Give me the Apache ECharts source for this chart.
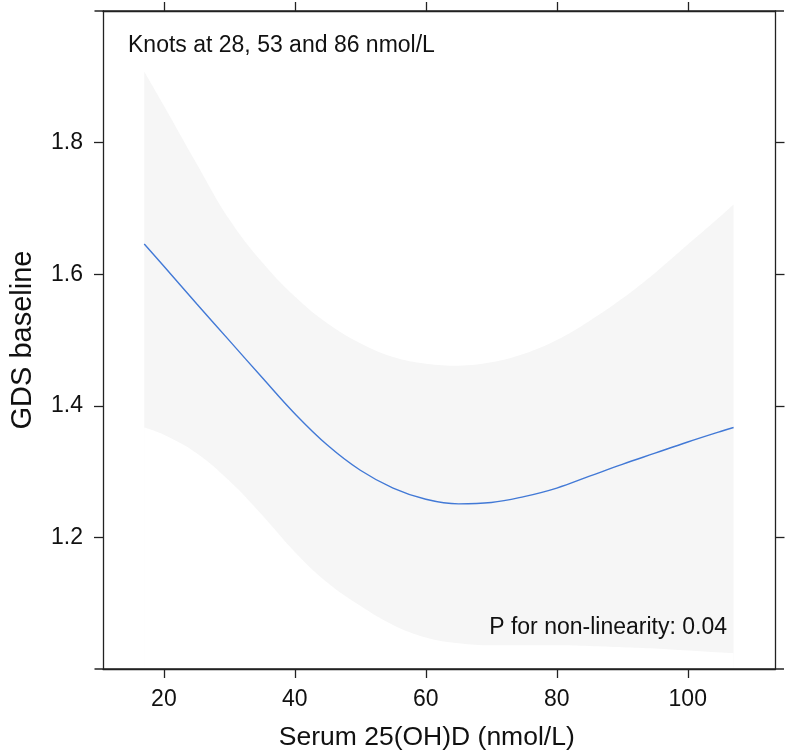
<!DOCTYPE html>
<html>
<head>
<meta charset="utf-8">
<script src="https://cdn.jsdelivr.net/npm/echarts@6/dist/echarts.min.js"></script>
<style>
html,body{margin:0;padding:0;background:#fff;}
#chart{width:786px;height:756px;}
</style>
</head>
<body>
<div id="chart"></div>
<script>
// Serum 25(OH)D values (nmol/L)
var xValues = [17, 20, 25, 30, 35, 40, 45, 50, 55, 60, 65, 70, 75, 80, 85, 90, 95, 100, 105, 107];
// Fitted GDS baseline
var fitValues = [1.646, 1.612, 1.555, 1.499, 1.443, 1.388, 1.340, 1.302, 1.275, 1.258, 1.251, 1.253, 1.262, 1.275, 1.293, 1.311, 1.328, 1.345, 1.361, 1.367];
// 95% CI bounds
var upperValues = [1.908, 1.856, 1.768, 1.683, 1.618, 1.566, 1.525, 1.495, 1.474, 1.464, 1.461, 1.466, 1.479, 1.500, 1.529, 1.563, 1.602, 1.645, 1.688, 1.706];
var lowerValues = [1.367, 1.356, 1.328, 1.286, 1.234, 1.178, 1.131, 1.096, 1.067, 1.048, 1.039, 1.036, 1.036, 1.036, 1.035, 1.033, 1.031, 1.028, 1.025, 1.024];
// Tick labels
var xTicks = [20, 40, 60, 80, 100];
var yTicks = [1.2, 1.4, 1.6, 1.8];
var xTitle = 'Serum 25(OH)D (nmol/L)';
var yTitle = 'GDS baseline';
var knotsText = 'Knots at 28, 53 and 86 nmol/L';
var pText = 'P for non-linearity: 0.04';

var FONT = '"Liberation Sans", Arial, Helvetica, sans-serif';
var lineCol = '#222';
var X_MIN = 10.7, X_MAX = 113.4, Y_MIN = 1.0, Y_MAX = 2.0;

function pairs(vals) { return xValues.map(function (x, i) { return [x, vals[i]]; }); }

var chart = echarts.init(document.getElementById('chart'), null, { renderer: 'canvas' });

function xAxisCfg(pos, labels) {
  return {
    type: 'value', position: pos, min: X_MIN, max: X_MAX,
    name: labels ? xTitle : '', nameLocation: 'middle', nameGap: 55,
    nameTextStyle: { fontFamily: FONT, fontSize: 26.5, color: '#111', padding: [0, 25, 0, 0] },
    axisLine: { show: true, onZero: false, lineStyle: { color: lineCol, width: 1.3 } },
    axisTick: { show: true, inside: false, length: 9, customValues: xTicks, lineStyle: { color: lineCol, width: 1.3 } },
    axisLabel: { show: labels, customValues: xTicks, margin: 19, fontFamily: FONT, fontSize: 23, color: '#111' },
    splitLine: { show: false }, z: 10
  };
}
function yAxisCfg(pos, labels) {
  return {
    type: 'value', position: pos, min: Y_MIN, max: Y_MAX,
    name: labels ? yTitle : '', nameLocation: 'middle', nameGap: 66, nameRotate: 90,
    nameTextStyle: { fontFamily: FONT, fontSize: 29, color: '#111' },
    axisLine: { show: true, onZero: false, lineStyle: { color: lineCol, width: 1.3 } },
    axisTick: { show: true, inside: false, length: 9, customValues: yTicks, lineStyle: { color: lineCol, width: 1.3 } },
    axisLabel: { show: labels, customValues: yTicks, margin: 20, fontFamily: FONT, fontSize: 23, color: '#111',
      formatter: function (v) { return v.toFixed(1); } },
    splitLine: { show: false }, z: 10
  };
}

chart.setOption({
  animation: false,
  backgroundColor: '#fff',
  grid: { left: 93, top: 11, width: 682.5, height: 658, containLabel: false },
  xAxis: [xAxisCfg('bottom', true), xAxisCfg('top', false)],
  yAxis: [yAxisCfg('left', true), yAxisCfg('right', false)],
  series: [
    { type: 'line', data: pairs(upperValues), symbol: 'none', smooth: 0.4,
      lineStyle: { width: 0, opacity: 0 }, areaStyle: { color: '#f6f6f6', opacity: 1, origin: 'start' }, silent: true, z: 1 },
    { type: 'line', data: pairs(lowerValues), symbol: 'none', smooth: 0.4,
      lineStyle: { width: 0, opacity: 0 }, areaStyle: { color: '#ffffff', opacity: 1, origin: 'start' }, silent: true, z: 2 },
    { type: 'line', data: pairs(fitValues), symbol: 'none', smooth: 0.4,
      lineStyle: { color: '#4279d6', width: 1.4 }, z: 3 }
  ]
});

// Frame: horizontal border lines run slightly past the box corners, as in the reference
var bl = chart.convertToPixel({ gridIndex: 0 }, [X_MIN, Y_MIN]);
var tr = chart.convertToPixel({ gridIndex: 0 }, [X_MAX, Y_MAX]);
var ext = 8.5;
chart.setOption({
  graphic: [
    { type: 'text', left: 128, top: 34, z: 10,
      style: { text: knotsText, font: '23px ' + FONT, fill: '#111' } },
    { type: 'text', right: 786 - 727, top: 616, z: 10,
      style: { text: pText, font: '23px ' + FONT, fill: '#111' } },
    { type: 'line', z: 20, shape: { x1: bl[0] - ext, y1: bl[1], x2: tr[0] + ext, y2: bl[1] },
      style: { stroke: lineCol, lineWidth: 1.3 } },
    { type: 'line', z: 20, shape: { x1: bl[0] - ext, y1: tr[1], x2: tr[0] + ext, y2: tr[1] },
      style: { stroke: lineCol, lineWidth: 1.3 } }
  ]
});
</script>
</body>
</html>
